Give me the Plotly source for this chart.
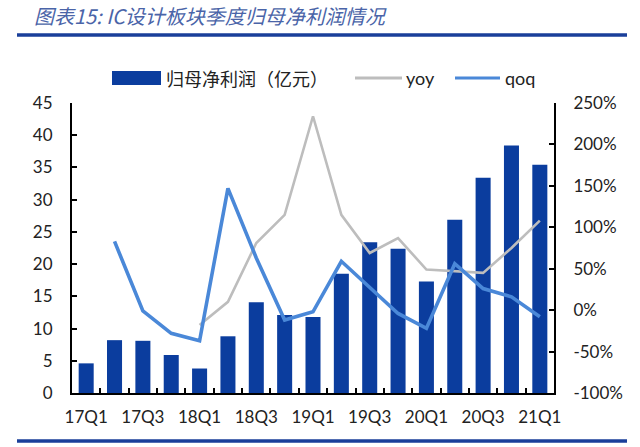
import plotly.graph_objects as go

quarters = ["17Q1", "17Q2", "17Q3", "17Q4", "18Q1", "18Q2", "18Q3", "18Q4",
            "19Q1", "19Q2", "19Q3", "19Q4", "20Q1", "20Q2", "20Q3", "20Q4", "21Q1"]
net_profit = [4.6, 8.2, 8.1, 5.9, 3.8, 8.8, 14.1, 12.1, 11.8, 18.5, 23.4, 22.4,
              17.3, 26.9, 33.4, 38.4, 35.4]
yoy = [None, None, None, None, -18, 10, 81, 115, 234, 115, 69, 87, 49, 47, 45, 75, 108]
qoq = [None, 83, -1, -28, -37, 147, 63, -12, -2, 59, 28, -4, -22, 56, 26, 16, -8]
left_ticks = [0, 5, 10, 15, 20, 25, 30, 35, 40, 45]
right_ticks = [-100, -50, 0, 50, 100, 150, 200, 250]
right_labels = [f"{v}%" for v in right_ticks]

title_text = "图表15: IC设计板块季度归母净利润情况"
legend_bar = "归母净利润（亿元）"

idx = list(range(len(quarters)))

BAR = "#0b3d9e"
QOQ = "#4a88d8"
YOY = "#bdbdbd"
RULE = "#1a3f9a"

fig = go.Figure()
fig.add_trace(go.Bar(x=idx, y=net_profit, marker_color=BAR, marker_line_width=0,
                     name=legend_bar))
fig.add_trace(go.Scatter(x=idx, y=yoy, mode="lines", line=dict(color=YOY, width=2.6),
                         yaxis="y2", name="yoy"))
fig.add_trace(go.Scatter(x=idx, y=qoq, mode="lines", line=dict(color=QOQ, width=3.6),
                         yaxis="y2", name="qoq"))

W, H = 640, 447
L, R, T, B = 72, 554, 103, 393
pw, ph = R - L, B - T

def px(x):
    return (x - L) / pw

def py(y):
    return (B - y) / ph

tickfont = dict(family="Lato, Open Sans, sans-serif", size=17, color="#222222")

fig.update_layout(
    width=W, height=H,
    margin=dict(l=L, r=W - R, t=T, b=H - B),
    paper_bgcolor="white", plot_bgcolor="white",
    showlegend=False,
    bargap=0.47,
    xaxis=dict(range=[-0.5, len(quarters) - 0.5], tickvals=idx[::2],
               ticktext=quarters[::2], ticks="", showgrid=False, zeroline=False,
               showline=True, linecolor="black", linewidth=2,
               tickfont=tickfont, ticklabelstandoff=8,
               minor=dict(tickvals=[i + 0.5 for i in idx[:-1]], ticks="inside",
                          ticklen=5, tickcolor="black", tickwidth=1.5, showgrid=False)),
    yaxis=dict(range=[0, 45], tickvals=left_ticks, ticks="inside", ticklen=5,
               tickcolor="black", tickwidth=1.5, showgrid=False, zeroline=False,
               showline=True, linecolor="black", linewidth=2,
               tickfont=tickfont, ticklabelstandoff=14),
    yaxis2=dict(range=[-100, 250], tickvals=right_ticks, ticktext=right_labels,
                overlaying="y", side="right", ticks="inside", ticklen=5,
                tickcolor="black", tickwidth=1.5, showgrid=False, zeroline=False,
                showline=True, linecolor="black", linewidth=2,
                tickfont=tickfont, ticklabelstandoff=14),
)

shapes = [
    dict(type="line", xref="paper", yref="paper", x0=px(17), x1=px(627),
         y0=py(35), y1=py(35), line=dict(color=RULE, width=3.5)),
    dict(type="line", xref="paper", yref="paper", x0=px(17), x1=px(627),
         y0=py(441), y1=py(441), line=dict(color=RULE, width=3.5)),
    dict(type="rect", xref="paper", yref="paper", x0=px(112), x1=px(161),
         y0=py(85), y1=py(71), fillcolor=BAR, line=dict(width=0)),
    dict(type="line", xref="paper", yref="paper", x0=px(355), x1=px(402),
         y0=py(78), y1=py(78), line=dict(color=YOY, width=3)),
    dict(type="line", xref="paper", yref="paper", x0=px(455), x1=px(500),
         y0=py(78), y1=py(78), line=dict(color=QOQ, width=3)),
]
fig.update_layout(shapes=shapes)

legfont = dict(family="Noto Sans CJK SC, sans-serif", size=18, color="#222222")
ann = [
    dict(text="<i>" + title_text + "</i>", xref="paper", yref="paper",
         x=px(32), y=py(15), xanchor="left", yanchor="middle", showarrow=False,
         font=dict(family="Noto Sans CJK SC, sans-serif", size=20, color="#4a64a8")),
    dict(text=legend_bar, xref="paper", yref="paper", x=px(164), y=py(78),
         xanchor="left", yanchor="middle", showarrow=False, font=legfont),
    dict(text="yoy", xref="paper", yref="paper", x=px(404), y=py(78),
         xanchor="left", yanchor="middle", showarrow=False,
         font=dict(family="Lato, sans-serif", size=18, color="#222222")),
    dict(text="qoq", xref="paper", yref="paper", x=px(503), y=py(78),
         xanchor="left", yanchor="middle", showarrow=False,
         font=dict(family="Lato, sans-serif", size=18, color="#222222")),
]
fig.update_layout(annotations=ann)

fig.write_html("out.html", config={"displayModeBar": False},
               post_script="document.body.style.margin='0px';")
